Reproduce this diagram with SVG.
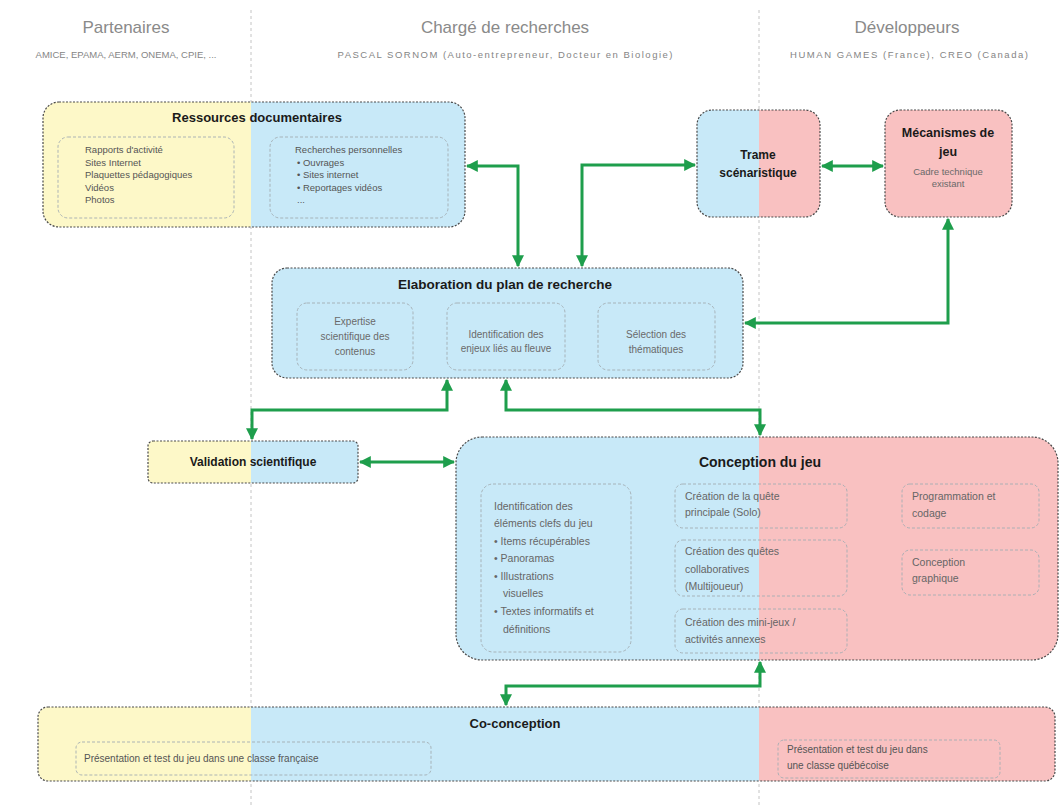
<svg xmlns="http://www.w3.org/2000/svg" width="1060" height="805" viewBox="0 0 1060 805">
<defs>
  <linearGradient id="lanes" gradientUnits="userSpaceOnUse" x1="0" y1="0" x2="1060" y2="0">
    <stop offset="0" stop-color="#fdf8c8"/>
    <stop offset="0.2368" stop-color="#fdf8c8"/>
    <stop offset="0.2368" stop-color="#c8e9f8"/>
    <stop offset="0.7160" stop-color="#c8e9f8"/>
    <stop offset="0.7160" stop-color="#f9c1c1"/>
    <stop offset="1" stop-color="#f9c1c1"/>
  </linearGradient>
  <marker id="ah" markerUnits="userSpaceOnUse" markerWidth="12" markerHeight="12" viewBox="0 0 10 10" refX="9" refY="5" orient="auto-start-reverse">
    <path d="M0,0 L10,5 L0,10 z" fill="#1e9e4c"/>
  </marker>
</defs>
<style>
  text { font-family: "Liberation Sans", Arial, sans-serif; }
  .hdr { font-size: 17px; fill: #8a8a8a; text-anchor: middle; }
  .sub { font-size: 9.5px; fill: #858585; text-anchor: middle; }
  .lane { stroke: #c4c4c4; stroke-width: 1; stroke-dasharray: 3 3; fill: none; }
  .box { fill: url(#lanes); stroke: #4a4a4a; stroke-width: 1.2; stroke-dasharray: 2 1.5; }
  .inner { fill: none; stroke: #a3adb2; stroke-width: 0.9; stroke-dasharray: 3 2; }
  .title { font-size: 13px; font-weight: bold; fill: #1a1a1a; text-anchor: middle; }
  .t { font-size: 9.5px; fill: #555; }
  .tc { font-size: 10px; fill: #6a6a6a; text-anchor: middle; }
  .tm { font-size: 10.5px; fill: #666; }
  .conn { fill: none; stroke: #1e9e4c; stroke-width: 3; marker-start: url(#ah); marker-end: url(#ah); }
</style>
<rect width="1060" height="805" fill="#ffffff"/>

<g id="lanes-bg">
  <line class="lane" x1="251" y1="10" x2="251" y2="805"/>
  <line class="lane" x1="759" y1="10" x2="759" y2="805"/>
  <text class="hdr" x="126" y="33">Partenaires</text>
  <text class="sub" x="126" y="58">AMICE, EPAMA, AERM, ONEMA, CPIE, ...</text>
  <text class="hdr" x="505" y="33">Chargé de recherches</text>
  <text class="sub" x="505" y="58" textLength="335" lengthAdjust="spacing">PASCAL SORNOM (Auto-entrepreneur, Docteur en Biologie)</text>
  <text class="hdr" x="907" y="33">Développeurs</text>
  <text class="sub" x="909" y="58" textLength="238" lengthAdjust="spacing">HUMAN GAMES (France), CREO (Canada)</text>
</g>

<g id="ressources">
  <rect class="box" x="43" y="102" width="422" height="125" rx="16"/>
  <text class="title" x="257" y="122">Ressources documentaires</text>
  <rect class="inner" x="58" y="137" width="176" height="81" rx="10"/>
  <text class="t" x="85" y="153">Rapports d'activité</text>
  <text class="t" x="85" y="165.5">Sites Internet</text>
  <text class="t" x="85" y="178">Plaquettes pédagogiques</text>
  <text class="t" x="85" y="190.5">Vidéos</text>
  <text class="t" x="85" y="203">Photos</text>
  <rect class="inner" x="270" y="137" width="178" height="81" rx="10"/>
  <text class="t" x="295" y="153">Recherches personnelles</text>
  <text class="t" x="297" y="165.5">•  Ouvrages</text>
  <text class="t" x="297" y="178">•  Sites internet</text>
  <text class="t" x="297" y="190.5">•  Reportages vidéos</text>
  <text class="t" x="297" y="203">...</text>
</g>

<g id="trame">
  <rect class="box" x="697" y="110" width="123" height="107" rx="15"/>
  <text class="title" x="758" y="159" style="font-size:12px">Trame</text>
  <text class="title" x="758" y="177" style="font-size:12px">scénaristique</text>
</g>

<g id="mecanismes">
  <rect class="box" x="885" y="110" width="127" height="107" rx="15"/>
  <text class="title" x="948" y="137" style="font-size:12.5px">Mécanismes de</text>
  <text class="title" x="948" y="156" style="font-size:12.5px">jeu</text>
  <text class="tc" x="948" y="175" style="font-size:9.5px">Cadre technique</text>
  <text class="tc" x="948" y="187" style="font-size:9.5px">existant</text>
</g>

<g id="elaboration">
  <rect class="box" x="272" y="268" width="471" height="110" rx="15"/>
  <text class="title" x="505" y="289" style="font-size:13.5px">Elaboration du plan de recherche</text>
  <rect class="inner" x="297" y="303" width="116" height="67" rx="10"/>
  <text class="tc" x="355" y="325">Expertise</text>
  <text class="tc" x="355" y="340">scientifique des</text>
  <text class="tc" x="355" y="355">contenus</text>
  <rect class="inner" x="447" y="303" width="118" height="67" rx="10"/>
  <text class="tc" x="506" y="338">Identification des</text>
  <text class="tc" x="506" y="352">enjeux liés au fleuve</text>
  <rect class="inner" x="598" y="303" width="117" height="67" rx="10"/>
  <text class="tc" x="656" y="338">Sélection des</text>
  <text class="tc" x="656" y="353">thématiques</text>
</g>

<g id="validation">
  <rect class="box" x="148" y="441" width="210" height="42" rx="5"/>
  <text class="title" x="253" y="466" style="font-size:12px">Validation scientifique</text>
</g>

<g id="conception">
  <rect class="box" x="456" y="437" width="602" height="223" rx="26"/>
  <text class="title" x="760" y="467" style="font-size:14px">Conception du jeu</text>
  <rect class="inner" x="481" y="484" width="150" height="168" rx="12"/>
  <text class="tm" x="494" y="510">Identification des</text>
  <text class="tm" x="494" y="527">éléments clefs du jeu</text>
  <text class="tm" x="494" y="545">•  Items récupérables</text>
  <text class="tm" x="494" y="562">•  Panoramas</text>
  <text class="tm" x="494" y="580">•  Illustrations</text>
  <text class="tm" x="503" y="597">visuelles</text>
  <text class="tm" x="494" y="615">•  Textes informatifs et</text>
  <text class="tm" x="503" y="633">définitions</text>
  <rect class="inner" x="675" y="484" width="172" height="44" rx="8"/>
  <text class="tm" x="685" y="500">Création de la quête</text>
  <text class="tm" x="685" y="516">principale (Solo)</text>
  <rect class="inner" x="675" y="540" width="172" height="56" rx="8"/>
  <text class="tm" x="685" y="555">Création des quêtes</text>
  <text class="tm" x="685" y="573">collaboratives</text>
  <text class="tm" x="685" y="590">(Multijoueur)</text>
  <rect class="inner" x="675" y="609" width="172" height="44" rx="8"/>
  <text class="tm" x="685" y="626">Création des mini-jeux /</text>
  <text class="tm" x="685" y="643">activités annexes</text>
  <rect class="inner" x="902" y="484" width="137" height="44" rx="8"/>
  <text class="tm" x="912" y="500">Programmation et</text>
  <text class="tm" x="912" y="517">codage</text>
  <rect class="inner" x="902" y="550" width="137" height="45" rx="8"/>
  <text class="tm" x="912" y="566">Conception</text>
  <text class="tm" x="912" y="582">graphique</text>
</g>

<g id="coconception">
  <rect class="box" x="38" y="707" width="1017" height="74" rx="10"/>
  <text class="title" x="515" y="728">Co-conception</text>
  <rect class="inner" x="76" y="742" width="355" height="33" rx="6"/>
  <text class="t" x="84" y="762" style="font-size:10px">Présentation et test du jeu dans une classe française</text>
  <rect class="inner" x="778" y="740" width="222" height="38" rx="6"/>
  <text class="t" x="787" y="753" style="font-size:10px">Présentation et test du jeu dans</text>
  <text class="t" x="787" y="769" style="font-size:10px">une classe québécoise</text>
</g>

<g id="connectors">
  <path class="conn" d="M467,166 H518 V266"/>
  <path class="conn" d="M582,266 V165 H695"/>
  <path class="conn" d="M822,166 H883"/>
  <path class="conn" d="M948,219 V323 H745"/>
  <path class="conn" d="M447,380 V410 H252 V439"/>
  <path class="conn" d="M506,380 V410 H760 V435"/>
  <path class="conn" d="M360,462 H454"/>
  <path class="conn" d="M760,662 V686 H506 V705"/>
</g>
</svg>
